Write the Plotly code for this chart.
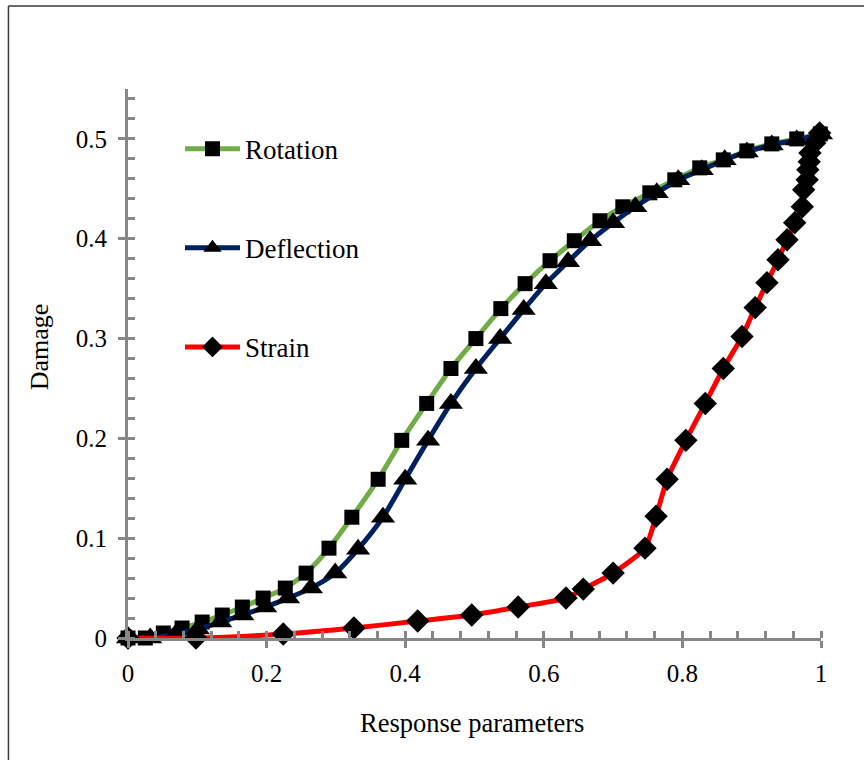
import plotly.graph_objects as go

# ---- data ----
rot_x = [0, 0.025, 0.051, 0.078, 0.107, 0.136, 0.165, 0.195, 0.227, 0.257, 0.29, 0.323, 0.361, 0.395,
         0.431, 0.466, 0.502, 0.538, 0.573, 0.609, 0.644, 0.681, 0.714, 0.753, 0.789, 0.825, 0.859,
         0.893, 0.929, 0.965, 0.999]
rot_y = [0, 0, 0.005, 0.01, 0.016, 0.023, 0.031, 0.04, 0.05, 0.065, 0.09, 0.121, 0.159, 0.198,
         0.235, 0.27, 0.30, 0.33, 0.355, 0.378, 0.398, 0.418, 0.432, 0.446, 0.459, 0.471, 0.479,
         0.488, 0.495, 0.500, 0.505]

def_x = [0, 0.032, 0.069, 0.101, 0.133, 0.165, 0.198, 0.231, 0.264, 0.299, 0.332, 0.368, 0.40,
         0.433, 0.466, 0.502, 0.537, 0.571, 0.603, 0.635, 0.667, 0.70, 0.732, 0.763, 0.794, 0.828,
         0.861, 0.893, 0.929, 0.965, 1.0]
def_y = [0, 0, 0.004, 0.009, 0.016, 0.023, 0.031, 0.04, 0.05, 0.065, 0.089, 0.121, 0.159,
         0.198, 0.235, 0.27, 0.30, 0.329, 0.355, 0.377, 0.398, 0.416, 0.432, 0.446, 0.459, 0.469,
         0.479, 0.487, 0.494, 0.499, 0.505]

str_x = [0, 0.098, 0.224, 0.326, 0.418, 0.496, 0.563, 0.632, 0.657, 0.70, 0.746, 0.762, 0.778,
         0.805, 0.833, 0.859, 0.886, 0.905, 0.922, 0.938, 0.951, 0.962, 0.973, 0.975, 0.98, 0.981,
         0.983, 0.984, 0.991, 0.998]
str_y = [0, 0, 0.004, 0.01, 0.017, 0.023, 0.031, 0.04, 0.049, 0.065, 0.09, 0.122, 0.159, 0.198,
         0.235, 0.27, 0.302, 0.331, 0.356, 0.379, 0.399, 0.416, 0.432, 0.449, 0.459, 0.469, 0.477,
         0.486, 0.496, 0.506]

x_ticks = [0, 0.2, 0.4, 0.6, 0.8, 1]
x_labels = ["0", "0.2", "0.4", "0.6", "0.8", "1"]
y_ticks = [0, 0.1, 0.2, 0.3, 0.4, 0.5]
y_labels = ["0", "0.1", "0.2", "0.3", "0.4", "0.5"]

FONT = "Liberation Serif, Times New Roman, serif"
AX = "#878787"

fig = go.Figure()
series = [
    ("Rotation", rot_x, rot_y, "#70AD47", "square", 15),
    ("Deflection", def_x, def_y, "#002060", "triangle-up", 21),
    ("Strain", str_x, str_y, "#FF0000", "diamond", 18),
]
for i, (name, xs, ys, col, sym, sz) in enumerate(series):
    fig.add_trace(go.Scatter(
        x=xs, y=ys, name=name, mode="lines+markers",
        line=dict(color=col, width=5, shape="spline", smoothing=0.6),
        marker=dict(symbol=sym, size=sz, color="black"),
        legendgroup=f"g{i}", cliponaxis=False,
    ))

fig.update_layout(
    width=864, height=760,
    margin=dict(l=128, r=43, t=89, b=122),
    paper_bgcolor="white", plot_bgcolor="white",
    font=dict(family=FONT, size=25, color="black"),
    showlegend=True,
    legend=dict(x=0.075, y=0.935, xanchor="left", yanchor="top",
                bgcolor="rgba(0,0,0,0)", tracegroupgap=61, itemwidth=55,
                font=dict(family=FONT, size=27)),
    xaxis=dict(range=[0, 1], tickvals=x_ticks, ticktext=x_labels,
               showgrid=False, zeroline=False, showline=True, linecolor=AX, linewidth=3,
               ticks="outside", ticklen=7, tickwidth=3, tickcolor=AX,
               minor=dict(ticks="inside", ticklen=7, tickwidth=3, tickcolor=AX, dtick=0.04),
               ticklabelstandoff=4),
    yaxis=dict(range=[0, 0.55], tickvals=y_ticks, ticktext=y_labels,
               showgrid=False, zeroline=False, showline=True, linecolor=AX, linewidth=3,
               ticks="outside", ticklen=7, tickwidth=3, tickcolor=AX,
               minor=dict(ticks="inside", ticklen=7, tickwidth=3, tickcolor=AX, dtick=0.02),
               ticklabelstandoff=6),
    xaxis2=dict(range=[0, 1], overlaying="x", tickvals=x_ticks, showticklabels=False,
                ticks="inside", ticklen=7, tickwidth=3, tickcolor=AX, showgrid=False,
                zeroline=False, showline=False, side="bottom"),
    yaxis2=dict(range=[0, 0.55], overlaying="y", tickvals=y_ticks, showticklabels=False,
                ticks="inside", ticklen=7, tickwidth=3, tickcolor=AX, showgrid=False,
                zeroline=False, showline=False, side="left"),
)
# invisible trace that activates the overlay axes (crossing major ticks)
fig.add_trace(go.Scatter(x=[None], y=[None], xaxis="x2", yaxis="y2", showlegend=False,
                         hoverinfo="skip"))

fig.add_annotation(text="Damage", xref="paper", yref="paper", x=-0.128, y=0.53,
                   textangle=-90, showarrow=False, font=dict(family=FONT, size=26),
                   xanchor="center", yanchor="middle")
fig.add_annotation(text="Response parameters", xref="paper", yref="paper", x=0.497, y=-0.154,
                   showarrow=False, font=dict(family=FONT, size=26.5),
                   xanchor="center", yanchor="middle")

# outer chart frame (left and top edges visible)
fig.add_shape(type="line", xref="paper", yref="paper", x0=-0.1725, x1=-0.1725, y0=-0.3, y1=1.151,
              line=dict(color="#3a3a3a", width=1.5))
fig.add_shape(type="line", xref="paper", yref="paper", x0=-0.1725, x1=1.2, y0=1.151, y1=1.151,
              line=dict(color="#3a3a3a", width=1.5))

fig.write_html("out.html")
